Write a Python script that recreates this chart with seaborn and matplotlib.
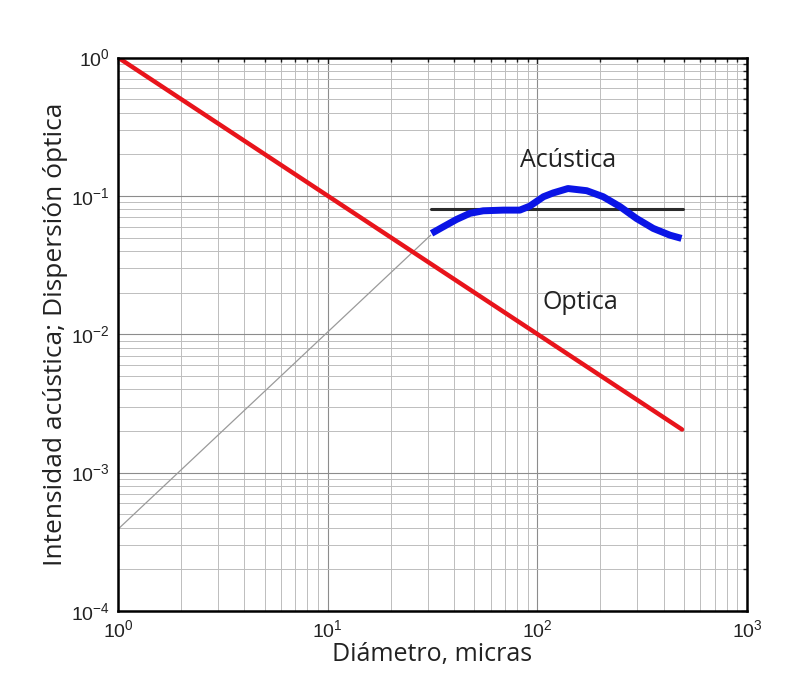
import matplotlib
matplotlib.use("Agg")
import matplotlib.pyplot as plt
import matplotlib.ticker as mticker
import seaborn as sns
import numpy as np
import pandas as pd

# optical scattering (red), ~1/d
optica_x = [1, 490]
optica_y = [1.0, 2.05e-3]

# thin grey extrapolation line
gris_x = [1, 31]
gris_y = [3.9e-4, 0.052]

# flat reference line
ref_x = [31, 495]
ref_y = [0.08, 0.08]

# acoustic intensity (blue)
acustica_x = [31.3, 35.6, 41.2, 47.7, 55.2, 68.8, 82.5, 92, 107, 119, 140, 172,
              206, 248, 297, 357, 429, 487]
acustica_y = [0.0536, 0.0598, 0.0676, 0.0748, 0.078, 0.0789, 0.0789, 0.0843, 0.0986,
              0.105, 0.113, 0.109, 0.0986, 0.0836, 0.0687, 0.0582, 0.052, 0.0493]

x_ticks = [1, 10, 100, 1000]
y_ticks = [1e-4, 1e-3, 1e-2, 1e-1, 1]


def main():
    sns.set_theme(style="white")
    plt.rcParams["font.family"] = ["Open Sans", "DejaVu Sans"]
    plt.rcParams["mathtext.fontset"] = "custom"
    plt.rcParams["mathtext.rm"] = "Liberation Sans"
    plt.rcParams["mathtext.default"] = "regular"

    fig = plt.figure(figsize=(8.11, 6.83), dpi=100)
    ax = fig.add_axes([118 / 811, 1 - 611 / 683, (747 - 118) / 811, (611 - 57.5) / 683])
    ax.set_xscale("log")
    ax.set_yscale("log")

    # grid first so lines sit on top
    ax.grid(True, which="major", color="#8c8c8c", linewidth=0.8)
    ax.grid(True, which="minor", color="#bdbdbd", linewidth=0.7)
    ax.set_axisbelow(True)

    sns.lineplot(data=pd.DataFrame({"x": gris_x, "y": gris_y}), x="x", y="y", ax=ax,
                 color="#9a9a9a", linewidth=0.9)
    sns.lineplot(data=pd.DataFrame({"x": optica_x, "y": optica_y}), x="x", y="y", ax=ax,
                 color="#e8141b", linewidth=3.2)
    sns.lineplot(data=pd.DataFrame({"x": ref_x, "y": ref_y}), x="x", y="y", ax=ax,
                 color="#2a2a2a", linewidth=2.2)
    sns.lineplot(data=pd.DataFrame({"x": acustica_x, "y": acustica_y}), x="x", y="y", ax=ax,
                 color="#0a14e6", linewidth=5, solid_capstyle="butt", solid_joinstyle="round")

    ax.set_xlim(1, 1000)
    ax.set_ylim(1e-4, 1)
    ax.set_xticks(x_ticks)
    ax.set_yticks(y_ticks)
    ax.xaxis.set_major_formatter(mticker.LogFormatterMathtext())
    ax.yaxis.set_major_formatter(mticker.LogFormatterMathtext())
    ax.tick_params(which="both", direction="in", top=True, right=True, labelsize=14,
                   colors="#222222", length=3, width=1)
    ax.tick_params(which="major", length=4, pad=6)
    for lab in ax.get_xticklabels() + ax.get_yticklabels():
        lab.set_fontfamily("Liberation Sans")

    for s in ax.spines.values():
        s.set_color("black")
        s.set_linewidth(1.8)

    ax.text(140, 0.18, "Acústica", fontsize=18, ha="center", va="center", color="#222222")
    ax.text(160, 0.017, "Optica", fontsize=18, ha="center", va="center", color="#222222")

    ax.set_xlabel("Diámetro, micras", fontsize=18, color="#222222")
    ax.set_ylabel("Intensidad acústica; Dispersión óptica", fontsize=19, color="#222222")
    ax.xaxis.set_label_coords(0.5, -44 / 553.5, transform=ax.transAxes)
    ax.yaxis.set_label_coords(-62 / 629, 0.5, transform=ax.transAxes)
    ax.xaxis.label.set_va("center")
    ax.yaxis.label.set_va("center")

    fig.savefig("out.png", dpi=100, facecolor="white")


if __name__ == "__main__":
    main()
